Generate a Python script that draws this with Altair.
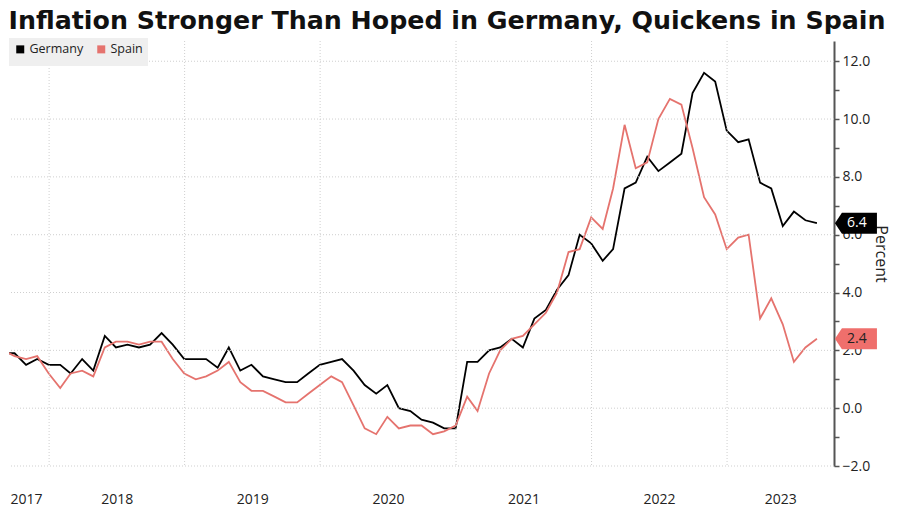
import altair as alt
import pandas as pd

# ---------------- data ----------------
months = pd.date_range(start="2017-08-31", periods=73, freq=pd.offsets.MonthEnd())

germany = [
    1.9, 1.9, 1.5, 1.7, 1.5,
    1.5, 1.2, 1.7, 1.3, 2.5, 2.1, 2.2, 2.1, 2.2, 2.6, 2.2, 1.7,
    1.7, 1.7, 1.4, 2.1, 1.3, 1.5, 1.1, 1.0, 0.9, 0.9, 1.2, 1.5,
    1.6, 1.7, 1.3, 0.8, 0.5, 0.8, 0.0, -0.1, -0.4, -0.5, -0.7, -0.7,
    1.6, 1.6, 2.0, 2.1, 2.4, 2.1, 3.1, 3.4, 4.1, 4.6, 6.0, 5.7,
    5.1, 5.5, 7.6, 7.8, 8.7, 8.2, 8.5, 8.8, 10.9, 11.6, 11.3, 9.6,
    9.2, 9.3, 7.8, 7.6, 6.3, 6.8, 6.5, 6.4,
]
spain = [
    2.0, 1.8, 1.7, 1.8, 1.2,
    0.7, 1.2, 1.3, 1.1, 2.1, 2.3, 2.3, 2.2, 2.3, 2.3, 1.7, 1.2,
    1.0, 1.1, 1.3, 1.6, 0.9, 0.6, 0.6, 0.4, 0.2, 0.2, 0.5, 0.8,
    1.1, 0.9, 0.1, -0.7, -0.9, -0.3, -0.7, -0.6, -0.6, -0.9, -0.8, -0.6,
    0.4, -0.1, 1.2, 2.0, 2.4, 2.5, 2.9, 3.3, 4.0, 5.4, 5.5, 6.6,
    6.2, 7.6, 9.8, 8.3, 8.5, 10.0, 10.7, 10.5, 9.0, 7.3, 6.7, 5.5,
    5.9, 6.0, 3.1, 3.8, 2.9, 1.6, 2.1, 2.4,
]
series_names = ["Germany", "Spain"]

year_label_dates = ["2017-10-31", "2018-07-02", "2019-07-02", "2020-07-02",
                    "2021-07-02", "2022-07-02", "2023-05-24"]
year_starts = ["2018-01-01", "2019-01-01", "2020-01-01", "2021-01-01",
               "2022-01-01", "2023-01-01"]
y_grid_values = [-2, 0, 2, 4, 6, 8, 10, 12]
y_tick_values = list(range(-2, 13))

# ---------------- styles ----------------
series_colors = ["#000000", "#e5736e"]
box_fills = {"Germany": "#000000", "Spain": "#ef6f6c"}
box_text = {"Germany": "#ffffff", "Spain": "#222222"}
GRID = "#cfcfcf"
AXIS_FONT = "Open Sans"

df = pd.concat([
    pd.DataFrame({"date": months, "value": germany, "series": "Germany"}),
    pd.DataFrame({"date": months, "value": spain, "series": "Spain"}),
], ignore_index=True)


def dt(s):
    t = pd.Timestamp(s)
    return alt.DateTime(year=t.year, month=t.month, date=t.day)


x_scale = alt.Scale(domain=[dt("2017-09-15"), dt("2023-10-16")])
y_scale = alt.Scale(domain=[-2, 12.7], nice=False, zero=False)

x_axis = alt.Axis(values=[dt(s) for s in year_label_dates],
                  labelExpr="timeFormat(datum.value, '%Y')",
                  grid=False, ticks=False, domain=False,
                  labelFontSize=14, labelColor="#222222", labelFont=AXIS_FONT,
                  labelPadding=26, labelBound=False, labelFlush=False)
y_axis = alt.Axis(orient="right", values=y_tick_values,
                  labelExpr="datum.value % 2 == 0 ? format(datum.value, '.1f') : ''",
                  grid=False, tickSize=5, tickColor="#555555", tickWidth=1.5,
                  domainColor="#555555", domainWidth=2,
                  labelFontSize=14, labelColor="#222222", labelFont=AXIS_FONT,
                  labelPadding=3, titleFontSize=16, titleFontWeight="normal",
                  titleFont=AXIS_FONT, titleColor="#222222", titleAngle=90,
                  titlePadding=3)

X = alt.X("date:T", scale=x_scale, title=None, axis=x_axis)
Y = alt.Y("value:Q", scale=y_scale, title="Percent", axis=y_axis)

# grid lines (same field names so the shared axes merge cleanly)
vgrid = alt.Chart(pd.DataFrame({"date": pd.to_datetime(year_starts)})).mark_rule(
    color=GRID, strokeDash=[1, 2], strokeWidth=1
).encode(x=X)

hgrid = alt.Chart(pd.DataFrame({"value": y_grid_values})).mark_rule(
    color=GRID, strokeDash=[1, 2], strokeWidth=1
).encode(y=Y)

lines = alt.Chart(df).mark_line(strokeWidth=1.8, clip=True).encode(
    x=X, y=Y,
    color=alt.Color(
        "series:N",
        scale=alt.Scale(domain=series_names, range=series_colors),
        legend=alt.Legend(title=None, orient="none", legendX=0, legendY=-3,
                          direction="horizontal", symbolType="square",
                          symbolSize=9, symbolStrokeWidth=5,
                          fillColor="#efefef", padding=5,
                          labelFontSize=12.5, labelFont=AXIS_FONT,
                          labelColor="#222222", columnPadding=5,
                          labelOffset=3),
    ),
)

box_path = "M1.8,0 L2.5,-1.05 L6,-1.05 L6,1.05 L2.5,1.05 Z"
end_layers = []
for name in series_names:
    last = df[df["series"] == name].tail(1)
    box = alt.Chart(last).mark_point(
        shape=box_path, size=400, filled=True, fill=box_fills[name],
        opacity=1, strokeWidth=0
    ).encode(x=X, y=Y)
    txt = alt.Chart(last).mark_text(
        dx=40, align="center", baseline="middle", fontSize=14,
        font=AXIS_FONT, color=box_text[name]
    ).encode(x=X, y=Y, text=alt.Text("value:Q", format=".1f"))
    end_layers += [box, txt]

chart = alt.layer(lines, vgrid, hgrid, *end_layers).properties(
    width=825, height=425,
    padding={"left": 0, "top": 0, "right": 2, "bottom": 0},
    title=alt.TitleParams(
        "Inflation Stronger Than Hoped in Germany, Quickens in Spain",
        anchor="start", fontSize=25.3, font="DejaVu Sans", fontWeight="bold",
        color="#111111", offset=4,
    ),
).configure_view(stroke=None)

chart.save("out.html", embed_options={"renderer": "svg", "actions": False})
